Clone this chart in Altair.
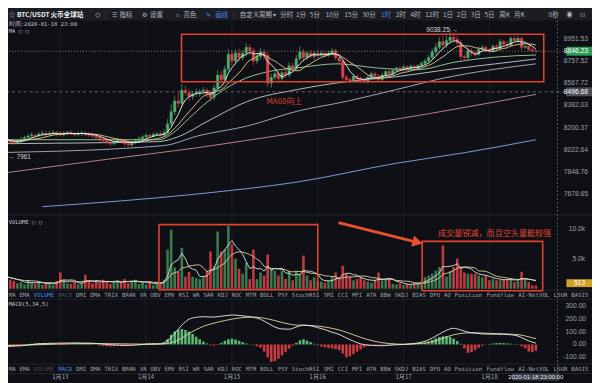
import altair as alt
import pandas as pd

# ---------------- data ----------------
CLOSE = [
    8112, 8095, 8080, 8075, 8090, 8105,
    8120, 8132, 8140, 8135, 8148, 8155, 8146, 8152, 8160, 8150, 8142, 8155, 8162, 8150, 8144, 8150, 8158, 8146, 8138, 8130,
    8120, 8110, 8095, 8080, 8070, 8085, 8100, 8090, 8072, 8060, 8078, 8095,
    8110, 8125, 8138, 8130, 8145, 8150, 8140, 8160,
    8230, 8330, 8420, 8400, 8510, 8490, 8460,
    8480, 8490, 8500, 8510, 8480, 8450,
    8530, 8640, 8600, 8690, 8820, 8760, 8830,
    8790, 8830, 8880, 8850, 8760, 8800, 8840, 8810, 8570,
    8620, 8650, 8610, 8660, 8640,
    8720, 8700, 8780, 8840, 8790, 8830,
    8800, 8830, 8810, 8830, 8810, 8830, 8850, 8790, 8760,
    8620,
    8600, 8590, 8630, 8610, 8595, 8585, 8620, 8650, 8630, 8600,
    8640, 8670, 8650, 8680, 8700, 8690, 8710, 8695, 8715, 8700, 8720, 8740, 8760, 8790,
    8840, 8880, 8930, 8900, 8940, 8970, 8950, 8920, 8800, 8790,
    8850, 8830, 8820, 8860, 8880, 8860, 8850, 8890, 8870,
    8930, 8910, 8900, 8960, 8940, 8960,
    8880, 8890, 8860, 8850, 8846.23,
]
FIRST_OPEN = 8120
UP_WICK = [
    25, 18, 12, 20, 15, 22, 14, 18, 25, 12,
    16, 20, 14, 22, 18, 12, 24, 15, 10, 18,
    14, 20, 16, 12, 18, 22, 15, 10, 14, 18,
    20, 12, 16, 14, 22, 18, 12, 15, 20, 14,
    16, 12, 18, 14, 20, 25, 40, 60, 45, 70,
    55, 40, 30, 25, 35, 20, 28, 22, 30, 25,
    40, 35, 30, 45, 35, 30, 40, 25, 35, 30,
    25, 30, 35, 20, 25, 30, 20, 25, 18, 22,
    30, 25, 35, 50, 25, 20, 22, 18, 25, 20,
    15, 20, 25, 18, 20, 25, 22, 18, 20, 15,
    18, 22, 15, 20, 18, 15, 20, 14, 18, 16,
    12, 15, 18, 14, 16, 12, 15, 18, 20, 25,
    30, 35, 40, 50, 45, 68, 40, 30, 25, 20,
    25, 20, 18, 22, 20, 18, 15, 20, 18, 25,
    20, 25, 22, 18, 20, 15, 18, 12, 15, 10,
]
DN_WICK = [
    20, 134, 15, 18, 12, 20, 14, 12, 16, 18,
    12, 15, 18, 10, 14, 20, 12, 16, 18, 12,
    15, 12, 18, 20, 14, 12, 16, 22, 18, 15,
    20, 14, 12, 18, 25, 16, 14, 12, 15, 18,
    12, 15, 14, 18, 12, 15, 20, 25, 30, 35,
    30, 25, 40, 30, 25, 35, 20, 30, 35, 25,
    30, 40, 35, 25, 40, 30, 35, 25, 30, 40,
    35, 25, 30, 40, 30, 40, 25, 30, 20, 25,
    20, 25, 18, 22, 35, 20, 18, 25, 20, 15,
    18, 15, 20, 25, 22, 30, 25, 20, 18, 22,
    15, 18, 20, 15, 18, 20, 15, 18, 14, 16,
    18, 15, 12, 16, 14, 18, 15, 12, 14, 16,
    20, 25, 22, 35, 25, 30, 28, 25, 35, 30,
    20, 25, 22, 18, 15, 20, 18, 15, 20, 18,
    22, 18, 15, 20, 18, 25, 15, 18, 14, 12,
]
VOLUME = [
    1800, 2200, 1500, 1300, 900, 1100, 700, 1400, 1000, 800,
    1200, 600, 900, 1100, 700, 1300, 2700, 1500, 900, 800,
    1100, 700, 1000, 2300, 1200, 900, 1300, 1000, 1500, 1200,
    800, 1000, 1400, 1100, 1600, 900, 1300, 1500, 800, 1100,
    700, 1200, 600, 900, 1000, 1500,
    6500, 9800, 3500, 2800, 6800, 2000, 2800,
    2000, 1800, 1600, 2000, 3000, 6200,
    3800, 9500, 6200, 6500, 10400, 7400, 5000,
    3300, 2500, 4300, 1600, 6500, 1600, 2700, 2200, 5700,
    3300, 3000, 2200, 3000, 1600,
    3000, 1400, 3000, 2500, 5500, 2200,
    1400, 1900, 1200, 1200, 1000, 1300, 2000, 2700, 1800,
    3800,
    2500, 2000, 1400, 1600, 1900, 1400, 1200, 1000, 1400, 2700,
    1400, 1600, 1600, 800, 700, 900, 600, 800, 700, 900, 1000, 1200, 1900, 2200,
    2500, 3000, 3600, 7200, 2000, 2900, 3600, 5000, 3600, 2700,
    2500, 2500, 2500, 2200, 1900, 2200, 1400, 1600, 1400,
    1400, 1600, 1600, 1600, 1100, 1400,
    2800, 1600, 1100, 550, 513,
]
MACD_HIST = [
    -18, -22, -20, -15, -10, -6, -2, 3, 6, 8,
    10, 9, 7, 5, 3, -2, -5, -6, -4, 2,
    6, 9, 10, 8, 5, 2, -3, -8, -12, -15,
    -16, -14, -10, -12, -13, -9, -5, -1, 3, 6,
    8, 10, 9, 7, 6, 12, 40, 75, 100, 115,
    120, 112, 100, 82, 60, 40, 22, 8, -6, -10,
    -4, 12, 28, 40, 45, 38, 28, 18, 8, 2,
    -6, -14, -25, -55, -100, -135, -130, -110, -85, -58,
    -32, -10, 12, 32, 40, 30, 18, 6, -8, -16,
    -22, -28, -32, -36, -45, -70, -100, -92, -75, -55,
    -38, -22, -12, -6, -4, -8, -4, 2, 4, 6,
    5, 3, 2, 4, 6, 5, 8, 10, 14, 22,
    35, 48, 58, 64, 65, 60, 46, 26, 5, -30,
    -65, -60, -42, -25, -10, -2, 4, 8, 10, 12,
    10, 8, 6, 3, -4, -14, -30, -55, -60, -48,
]
DIF_I = [0, 5, 10, 15, 20, 25, 30, 35, 40, 44, 46, 48, 50, 52, 54, 56, 58, 60, 62, 64, 66, 68, 70, 72, 74, 76, 78,
         80, 82, 84, 86, 88, 90, 92, 94, 96, 98, 100, 102, 104, 106, 108, 110, 112, 114, 116, 118, 120, 122, 124,
         126, 128, 130, 132, 134, 136, 138, 140, 142, 144, 146, 148, 149]
DIF_V = [-15, -10, 5, 10, 12, 10, -2, -8, 2, 6, 30, 85, 150, 195, 210, 215, 212, 215, 222, 228, 225, 218, 210, 195,
         165, 135, 120, 118, 135, 150, 145, 130, 115, 95, 78, 50, 25, 5, -5, -8, -10, -6, -2, 0, 5, 12, 25, 50, 80,
         110, 125, 112, 95, 88, 82, 80, 80, 78, 75, 65, 40, 18, 10]
DEA_I = [0, 10, 20, 30, 40, 44, 46, 48, 50, 52, 54, 56, 58, 60, 62, 64, 66, 68, 70, 72, 74, 76, 78, 80, 82, 84, 86,
         88, 90, 92, 94, 96, 98, 100, 102, 104, 106, 108, 110, 112, 114, 116, 118, 120, 122, 124, 126, 128, 130, 132,
         134, 136, 138, 140, 142, 144, 146, 148, 149]
DEA_V = [-8, -2, 6, 6, 2, 3, 8, 22, 50, 85, 115, 140, 158, 172, 185, 196, 205, 210, 212, 208, 198, 185, 170, 158,
         150, 148, 146, 142, 135, 125, 112, 95, 75, 55, 38, 24, 14, 7, 3, 2, 3, 6, 12, 22, 38, 58, 75, 85, 90, 90,
         88, 86, 84, 82, 80, 76, 66, 52, 45]

# slower moving averages, sampled along the lines
MA30_I = [0, 43.5, 47.6, 51.8, 57.3, 65.7, 74, 82.3, 93.4, 104.4, 115.5, 126.6, 137.7, 149]
MA30_P = [8102, 8102, 8158, 8270, 8417, 8583, 8668, 8701, 8736, 8701, 8684, 8752, 8795, 8813]
MA60_I = [0, 43.5, 49, 57.3, 68.4, 82.3, 96.1, 110, 123.8, 137.7, 149]
MA60_P = [8071, 8087, 8126, 8254, 8417, 8516, 8583, 8625, 8684, 8736, 8778]
MA99_I = [0, 44.9, 54.6, 68.4, 82.3, 96.1, 110, 123.8, 149]
MA99_P = [8000, 8055, 8134, 8214, 8335, 8417, 8516, 8617, 8736]
MA120_I = [0, 26.9, 54.6, 82.3, 110, 129.4, 149]
MA120_P = [7838, 7938, 8039, 8158, 8270, 8368, 8475]
MA200_I = [11, 54.6, 82.3, 110, 129.4, 149]
MA200_P = [7581, 7678, 7769, 7915, 8000, 8102]

PRICE_TICKS = [8951.53, 8757.52, 8567.72, 8382.03, 8200.37, 8022.64, 7848.76, 7678.65]
LAST_PRICE = 8846.23
CROSS_PRICE = 8496.68
HIGH_LABEL = "9038.25 →"
HIGH_PRICE = 9038.25
LOW_LABEL = "← 7961"
LOW_PRICE = 7961
VOL_TICKS = [10000, 5000]
VOL_TICK_LABELS = ["10.0k", "5.0k"]
LAST_VOL = 513
MACD_TICKS = [300, 200, 100, 0, -100]
MACD_TICK_LABELS = ["300.00", "200.00", "100.00", "0.00", "-100.00"]

DATE_LABELS = ["1月13", "1月14", "1月15", "1月16", "1月17", "1月18"]
DATE_I = [16, 40, 64, 88, 112, 136]

HEADER_TEXT = ["☆", "BTC/USDT", "火币全球站", "☰", "指标", "⚙", "设置", "☼", "亮色", "✎", "画线", "自定义周期 ▾",
               "分时", "1分", "5分", "10分", "15分", "30分", "1时", "2时", "4时", "12时", "1日", "2日", "3日", "5日",
               "周K", "月K", "0秒", "◉", "⊡"]
TAB_WORDS = ["MA", "EMA", "VOLUME", "MACD", "DMI", "DMA", "TRIX", "BRAR", "VR", "OBV", "EMV", "RSI", "WR", "SAR",
             "KDJ", "ROC", "MTM", "BOLL", "PSY", "StochRSI", "SMI", "CCI", "MFI", "ATR", "BBW", "SKDJ", "BIAS",
             "DPO", "AO", "Position", "Fundflow", "AI-NetVOL", "LSUR", "BASIS"]

# annotations (data units)
PRICE_BOX = [49.9, 151.2, 8582, 8996]
VOL_BOXES = [[43.6, 88.0, -150, 10656], [117.2, 150.9, -330, 7869]]
ARROW = [93.8, 10984, 115.9, 7705]
NOTE_VOL = "成交量锐减，而且空头量能较强"
NOTE_MA = "MA60向上"

# ---------------- layout & style ----------------
W, H = 600, 383
HEADER_X = [9, 17, 51, 113, 121, 144, 152, 177, 186, 209, 218, 243, 284, 300, 314, 330, 349, 367, 386, 401, 416,
            431, 449, 463, 477, 491, 506, 521, 556, 574, 588]
HEADER_Y = 12.6
LEFT = 8.8


def xi(xref):
    # page pixel -> candle index on the shared x scale
    return (xref - 3) / 3.625


BG = "#0e1015"
HEADER_BG = "#1b1d23"
GRID = "#1b1e26"
SEP = "#272a33"
TXT = "#9ea2aa"
BLUE = "#4a86e8"
DIM = "#4a4d55"
UP, DN = "#53a86b", "#d9434b"
VUP, VDN = "#3b7a50", "#c23a40"
HUP, HDN = "#5cb874", "#cc3b42"
ANN = "#e2412f"
CJK = "Noto Sans CJK SC"
LAT = "Liberation Sans"
MONO = "DejaVu Sans Mono"

XS = alt.Scale(domain=[xi(0), xi(600)], nice=False, zero=False)
YP = alt.Scale(type="log", domain=[7528, 9121], range=[214, 18], nice=False)
YV = alt.Scale(domain=[0, 11967], range=[290, 217], nice=False, zero=False)
YM = alt.Scale(domain=[-164, 355], range=[368, 300], nice=False, zero=False)


def X(f):
    return alt.X(f, type="quantitative", scale=XS, axis=None)


def Yp(f):
    return alt.Y(f, type="quantitative", scale=YP, axis=None)


def Yv(f):
    return alt.Y(f, type="quantitative", scale=YV, axis=None)


def Ym(f):
    return alt.Y(f, type="quantitative", scale=YM, axis=None)


NOCOL = dict(scale=None)

# ---------------- tables ----------------
OPEN = [FIRST_OPEN] + CLOSE[:-1]
rows = []
for k in range(len(CLOSE)):
    o, c = OPEN[k], CLOSE[k]
    up = c >= o
    rows.append(dict(i=k, i0=k - 0.36, i1=k + 0.36, o=o, c=c,
                     h=max(o, c) + UP_WICK[k], l=min(o, c) - DN_WICK[k],
                     v=VOLUME[k], zero=0, m=MACD_HIST[k],
                     col=UP if up else DN, vcol=VUP if up else VDN,
                     mcol=HUP if MACD_HIST[k] >= 0 else HDN))
df = pd.DataFrame(rows)
base = alt.Chart(df)

layers = []

# header bar
layers.append(alt.Chart(pd.DataFrame({"a": [0]})).mark_rect(color=HEADER_BG).encode(
    x=alt.value(0), x2=alt.value(W), y=alt.value(0), y2=alt.value(18)))
sep_v = pd.DataFrame({"x": [xi(107), xi(237)]})
layers.append(alt.Chart(sep_v).mark_rule(color="#3a3d45", strokeWidth=0.8).encode(
    x=X("x"), y=alt.value(8), y2=alt.value(17)))

# day grid lines
grid = pd.DataFrame({"i": DATE_I})
layers.append(alt.Chart(grid).mark_rule(color=GRID, strokeWidth=1).encode(
    x=X("i"), y=alt.value(18), y2=alt.value(376)))

# panel separators
for yy in [215, 291.5, 300.5, 366.5, 376]:
    layers.append(alt.Chart(pd.DataFrame({"a": [0]})).mark_rule(color=SEP, strokeWidth=0.8).encode(
        x=alt.value(0), x2=alt.value(W), y=alt.value(yy)))

# ---------------- price panel ----------------
price = []
for I_, P_, colr, sw in [(MA200_I, MA200_P, "#7d9ad6", 1.0), (MA120_I, MA120_P, "#b97f86", 1.0),
                         (MA99_I, MA99_P, "#a9b7c6", 0.9), (MA60_I, MA60_P, "#c9cdd2", 0.9),
                         (MA30_I, MA30_P, "#9fd3a4", 0.9)]:
    price.append(alt.Chart(pd.DataFrame({"i": I_, "p": P_})).mark_line(
        color=colr, strokeWidth=sw, interpolate="monotone").encode(x=X("i"), y=Yp("p")))

price.append(base.mark_rule(strokeWidth=0.7).encode(
    x=X("i"), y=Yp("l"), y2="h:Q", color=alt.Color("col:N", **NOCOL)))
price.append(base.mark_rect(strokeWidth=0.4).encode(
    x=X("i0"), x2="i1:Q", y=Yp("o"), y2="c:Q",
    color=alt.Color("col:N", **NOCOL), stroke=alt.Stroke("col:N", **NOCOL)))
price.append(base.transform_window(ma="mean(c)", frame=[-9, 0], sort=[alt.SortField("i")]).mark_line(
    color="#e3cf8a", strokeWidth=0.9).encode(x=X("i"), y=Yp("ma")))
price.append(base.transform_window(ma="mean(c)", frame=[-4, 0], sort=[alt.SortField("i")]).mark_line(
    color="#f2f2f2", strokeWidth=0.9).encode(x=X("i"), y=Yp("ma")))

# current price & crosshair lines
hl = pd.DataFrame({"p": [LAST_PRICE], "a": [xi(0)], "b": [xi(574)]})
price.append(alt.Chart(hl).mark_rule(color="#9a9da4", strokeWidth=0.8, strokeDash=[1, 2]).encode(
    x=X("a"), x2="b:Q", y=Yp("p")))
ch = pd.DataFrame({"p": [CROSS_PRICE], "a": [xi(0)], "b": [xi(574)]})
price.append(alt.Chart(ch).mark_rule(color="#7c7f87", strokeWidth=0.8, strokeDash=[3, 3]).encode(
    x=X("a"), x2="b:Q", y=Yp("p")))

# annotation box + note
pb = pd.DataFrame({"a": [PRICE_BOX[0]], "b": [PRICE_BOX[1]], "p0": [PRICE_BOX[2]], "p1": [PRICE_BOX[3]]})
price.append(alt.Chart(pb).mark_rect(filled=False, stroke=ANN, strokeWidth=1.6).encode(
    x=X("a"), x2="b:Q", y=Yp("p0"), y2="p1:Q"))
nm = pd.DataFrame({"i": [xi(270)], "p": [8408], "t": [NOTE_MA]})
price.append(alt.Chart(nm).mark_text(align="left", baseline="middle", font=CJK, fontSize=8, color="#d8402f").encode(
    x=X("i"), y=Yp("p"), text="t:N"))

# high / low markers
hi = pd.DataFrame({"i": [xi(432)], "p": [HIGH_PRICE], "t": [HIGH_LABEL]})
price.append(alt.Chart(hi).mark_text(align="left", baseline="middle", font=LAT, fontSize=6.6, color="#d6d8dc").encode(
    x=X("i"), y=Yp("p"), text="t:N"))
lo = pd.DataFrame({"i": [xi(LEFT)], "p": [LOW_PRICE], "t": [LOW_LABEL]})
price.append(alt.Chart(lo).mark_text(align="left", baseline="middle", font=LAT, fontSize=6.4, color="#d6d8dc").encode(
    x=X("i"), y=Yp("p"), text="t:N"))

# right price labels
pt = pd.DataFrame({"p": PRICE_TICKS, "t": [f"{v:.2f}" for v in PRICE_TICKS]})
price.append(alt.Chart(pt).mark_text(align="right", baseline="middle", font=LAT, fontSize=6.8, color=TXT).encode(
    x=alt.value(596), y=Yp("p"), text="t:N"))
for val, bgc in [(LAST_PRICE, "#2e9b57"), (CROSS_PRICE, "#4a4e57")]:
    d = pd.DataFrame({"p": [val], "t": [f"{val:.2f}"]})
    price.append(alt.Chart(d).mark_rect(color=bgc, yOffset=-4.5, y2Offset=4.5).encode(
        x=alt.value(574), x2=alt.value(600), y=Yp("p"), y2="p:Q"))
    price.append(alt.Chart(d).mark_text(align="right", baseline="middle", font=LAT, fontSize=6.8,
                                        color="#ffffff").encode(x=alt.value(596), y=Yp("p"), text="t:N"))
layers.append(alt.layer(*price))

# ---------------- volume panel ----------------
vol = []
vol.append(base.mark_rect().encode(
    x=X("i0"), x2="i1:Q", y=Yv("zero"), y2="v:Q", color=alt.Color("vcol:N", **NOCOL)))
vol.append(base.transform_window(ma="mean(v)", frame=[-9, 0], sort=[alt.SortField("i")]).mark_line(
    color="#dccf9c", strokeWidth=0.9).encode(x=X("i"), y=Yv("ma")))
vol.append(base.transform_window(ma="mean(v)", frame=[-4, 0], sort=[alt.SortField("i")]).mark_line(
    color="#d6e6d6", strokeWidth=0.9).encode(x=X("i"), y=Yv("ma")))
vb = pd.DataFrame(VOL_BOXES, columns=["a", "b", "v0", "v1"])
vol.append(alt.Chart(vb).mark_rect(filled=False, stroke=ANN, strokeWidth=1.6).encode(
    x=X("a"), x2="b:Q", y=Yv("v0"), y2="v1:Q"))
ar = pd.DataFrame({"i": [ARROW[0], ARROW[2]], "v": [ARROW[1], ARROW[3]]})
vol.append(alt.Chart(ar).mark_line(color="#e8502e", strokeWidth=3).encode(x=X("i"), y=Yv("v")))
ah = pd.DataFrame({"i": [ARROW[2]], "v": [ARROW[3]]})
vol.append(alt.Chart(ah).mark_point(shape="triangle-right", angle=14, size=140, filled=True, color="#e8502e",
                                    opacity=1).encode(x=X("i"), y=Yv("v")))
nv = pd.DataFrame({"i": [xi(444)], "v": [9016], "t": [NOTE_VOL]})
vol.append(alt.Chart(nv).mark_text(align="left", baseline="middle", font=CJK, fontSize=8.2, color="#e5472f").encode(
    x=X("i"), y=Yv("v"), text="t:N"))
vt = pd.DataFrame({"v": VOL_TICKS, "t": VOL_TICK_LABELS})
vol.append(alt.Chart(vt).mark_text(align="right", baseline="middle", font=LAT, fontSize=6.8, color=TXT).encode(
    x=alt.value(593), y=Yv("v"), text="t:N"))
lv = pd.DataFrame({"v": [LAST_VOL], "t": [str(LAST_VOL)]})
vol.append(alt.Chart(lv).mark_rect(color="#d1a128", yOffset=-6.5, y2Offset=1.5).encode(
    x=alt.value(574), x2=alt.value(600), y=Yv("v"), y2="v:Q"))
vol.append(alt.Chart(lv).mark_text(align="right", baseline="middle", font=LAT, fontSize=6.6, color="#ffffff",
                                   dy=-2.5).encode(x=alt.value(593), y=Yv("v"), text="t:N"))
layers.append(alt.layer(*vol))

# ---------------- MACD panel ----------------
mac = []
mac.append(base.mark_rect().encode(
    x=X("i0"), x2="i1:Q", y=Ym("zero"), y2="m:Q", color=alt.Color("mcol:N", **NOCOL)))
mac.append(alt.Chart(pd.DataFrame({"i": DEA_I, "m": DEA_V})).mark_line(
    color="#e6d7a3", strokeWidth=0.9, interpolate="monotone").encode(x=X("i"), y=Ym("m")))
mac.append(alt.Chart(pd.DataFrame({"i": DIF_I, "m": DIF_V})).mark_line(
    color="#eeeeee", strokeWidth=0.9, interpolate="monotone").encode(x=X("i"), y=Ym("m")))
mt = pd.DataFrame({"m": MACD_TICKS, "t": MACD_TICK_LABELS})
mac.append(alt.Chart(mt).mark_text(align="right", baseline="middle", font=LAT, fontSize=6.8, color=TXT).encode(
    x=alt.value(594), y=Ym("m"), text="t:N"))
layers.append(alt.layer(*mac))

# crosshair vertical
cv = pd.DataFrame({"i": [xi(565)]})
layers.append(alt.Chart(cv).mark_rule(color="#6c6f77", strokeWidth=0.8, strokeDash=[2, 2]).encode(
    x=X("i"), y=alt.value(18), y2=alt.value(376)))

# ---------------- texts ----------------
hcol = []
for t in HEADER_TEXT:
    if t in ("✎", "画线", "1时"):
        hcol.append(BLUE)
    elif t in ("BTC/USDT", "火币全球站"):
        hcol.append("#eceef2")
    else:
        hcol.append("#b9bcc4")
hd = pd.DataFrame({"x": [xi(v) for v in HEADER_X], "t": HEADER_TEXT, "c": hcol})
bold = hd["t"].isin(["BTC/USDT", "火币全球站"])
layers.append(alt.Chart(hd[~bold]).mark_text(align="left", baseline="middle", font=CJK, fontSize=6.5).encode(
    x=X("x"), y=alt.value(HEADER_Y), text="t:N", color=alt.Color("c:N", **NOCOL)))
layers.append(alt.Chart(hd[bold]).mark_text(align="left", baseline="middle", font=CJK, fontSize=6.7,
                                            fontWeight="bold").encode(
    x=X("x"), y=alt.value(HEADER_Y), text="t:N", color=alt.Color("c:N", **NOCOL)))
layers.append(alt.Chart(pd.DataFrame({"x": [xi(99)]})).mark_point(shape="circle", size=16, color="#9a9ea6",
                                                                   strokeWidth=1).encode(
    x=X("x"), y=alt.value(HEADER_Y)))

sub = [("时间:2020-01-18 23:00", 21.5), ("MA ▢ ▢", 29), ("VOLUME ▢ ▢", 222.5), ("MACD(5,34,5)", 305.5)]
for t, yy in sub:
    layers.append(alt.Chart(pd.DataFrame({"x": [xi(LEFT)], "t": [t]})).mark_text(
        align="left", baseline="middle", font=MONO, fontSize=5.6, color="#c3c6cd").encode(
        x=X("x"), y=alt.value(yy), text="t:N"))

# tab bars: words laid out one after another like a single line of text
CH = (597 - LEFT) / (sum(len(w) for w in TAB_WORDS) + len(TAB_WORDS) - 1)
tab_x, pos = [], LEFT
for w in TAB_WORDS:
    tab_x.append(pos)
    pos += (len(w) + 1) * CH
for ybar, active, dim in [(296, "VOLUME", "MACD"), (371.5, "MACD", "VOLUME")]:
    cols = [BLUE if w == active else (DIM if w == dim else TXT) for w in TAB_WORDS]
    tb = pd.DataFrame({"x": [xi(v) for v in tab_x], "t": TAB_WORDS, "c": cols})
    layers.append(alt.Chart(tb).mark_text(align="left", baseline="middle", font=MONO, fontSize=5.8).encode(
        x=X("x"), y=alt.value(ybar), text="t:N", color=alt.Color("c:N", **NOCOL)))

dl = pd.DataFrame({"i": DATE_I, "t": DATE_LABELS})
layers.append(alt.Chart(dl).mark_text(align="center", baseline="middle", font=CJK, fontSize=6.2, color=TXT).encode(
    x=X("i"), y=alt.value(379.5), text="t:N"))
db = pd.DataFrame({"a": [xi(519)], "b": [xi(567)], "m": [xi(543)], "t": ["2020-01-18 23:00:00"]})
layers.append(alt.Chart(db).mark_rect(color="#3a3e48").encode(
    x=X("a"), x2="b:Q", y=alt.value(376), y2=alt.value(383)))
layers.append(alt.Chart(db).mark_text(align="center", baseline="middle", font=LAT, fontSize=6,
                                      color="#e4e6ea").encode(x=X("m"), y=alt.value(379.5), text="t:N"))

chart = alt.layer(*layers).resolve_scale(y="independent", color="independent", stroke="independent").properties(
    width=W, height=H, background=BG,
    padding={"left": -8, "top": -8, "right": 0, "bottom": 0},
    autosize=alt.AutoSizeParams(type="none")
).configure_view(stroke=None)

chart.save("out.html", embed_options={"renderer": "svg", "actions": False})
